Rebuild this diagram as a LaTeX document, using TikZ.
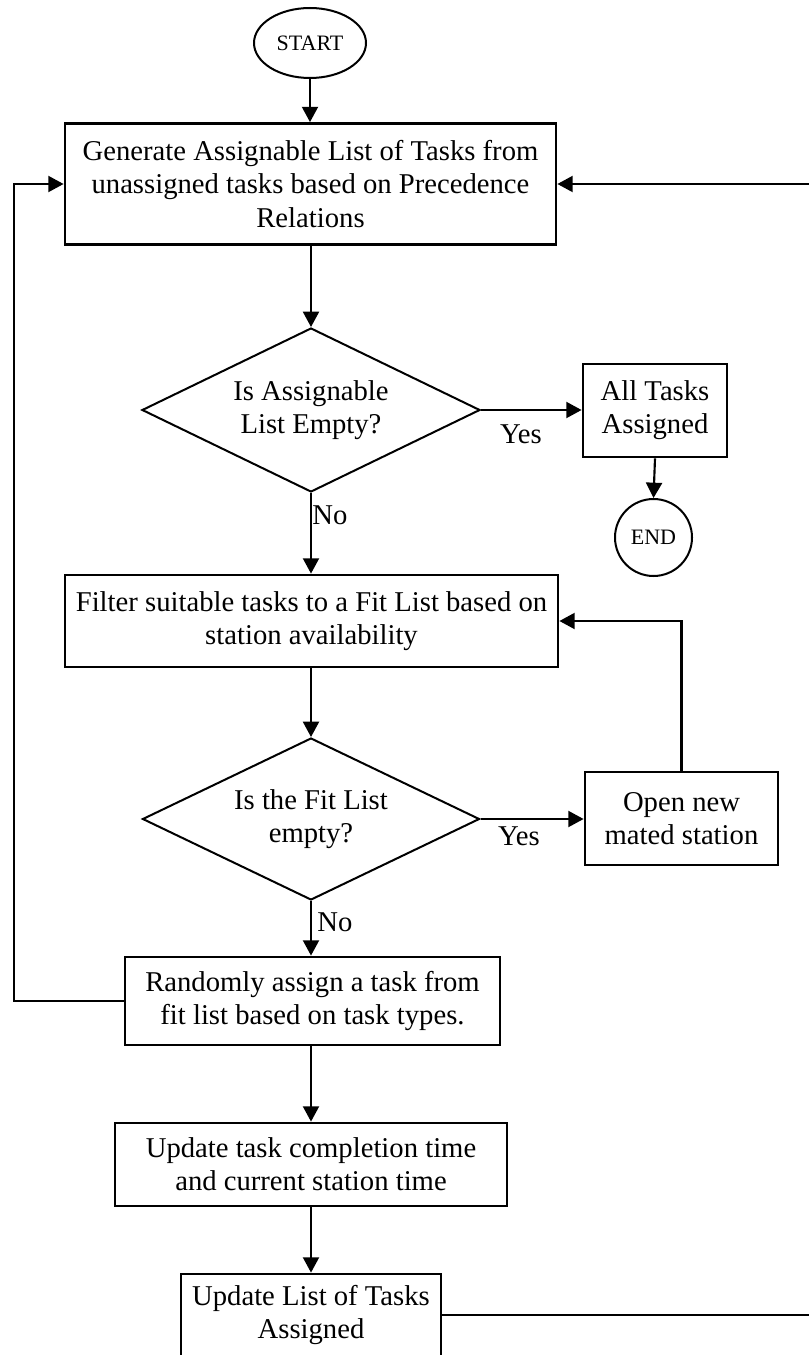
\documentclass[tikz,border=0pt]{standalone}
\usepackage{fontspec}
\setmainfont{Liberation Serif}
\usetikzlibrary{shapes.geometric,arrows.meta}
\newcommand{\mainfs}{\fontsize{21.5}{24.8}\selectfont}
\newcommand{\smallfs}{\fontsize{16.5}{19}\selectfont}
\begin{document}
\begin{tikzpicture}[x=0.75pt,y=-0.75pt,
 procbox/.style={draw,line width=2.1pt,rectangle,align=center,font=\mainfs,inner sep=0pt},
 decis/.style={draw,line width=1.5pt,diamond,aspect=2,align=center,font=\mainfs,inner sep=0pt},
 term/.style={draw,line width=1.5pt,ellipse,font=\smallfs,inner sep=0pt},
 conn/.style={line width=1.6pt,-{Triangle[length=11.5pt,width=12pt]}},
 lbl/.style={font=\mainfs,inner sep=0pt}]
\useasboundingbox (0,0) rectangle (808,1355);
\fill[white] (0,0) rectangle (808,1355);

\node[term,minimum width={112*0.75pt},minimum height={70*0.75pt}] (start) at (310,43) {START};
\node[procbox,minimum width={491*0.75pt},minimum height={121*0.75pt}] (gen) at (310.5,184)
  {Generate Assignable List of Tasks from\\unassigned tasks based on Precedence\\Relations};
\node[decis,minimum width={338*0.75pt},minimum height={164*0.75pt}] (d1) at (311,410)
  {Is Assignable\\List Empty?};
\node[procbox,minimum width={144*0.75pt},minimum height={93*0.75pt}] (all) at (655,410.5)
  {All Tasks\\Assigned};
\node[term,circle,minimum size={77*0.75pt}] (end) at (653.5,537.5) {END};
\node[procbox,minimum width={493*0.75pt},minimum height={92*0.75pt}] (filter) at (311.5,621)
  {Filter suitable tasks to a Fit List based on\\station availability};
\node[decis,minimum width={337*0.75pt},minimum height={162*0.75pt}] (d2) at (311,819)
  {Is the Fit List\\empty?};
\node[procbox,minimum width={193*0.75pt},minimum height={93*0.75pt}] (open) at (681.5,818.5)
  {Open new\\mated station};
\node[procbox,minimum width={375*0.75pt},minimum height={88*0.75pt}] (rand) at (312.5,1001)
  {Randomly assign a task from\\fit list based on task types.};
\node[procbox,minimum width={392*0.75pt},minimum height={83*0.75pt}] (upd) at (311,1164.5)
  {Update task completion time\\and current station time};
\node[procbox,minimum width={260*0.75pt},minimum height={82*0.75pt}] (ulist) at (311,1315)
  {Update List of Tasks\\Assigned};

\node[lbl] (yes1) at (521,434) {Yes};
\node[lbl] (no1) at (330,515) {No};
\node[lbl] (yes2) at (519,836) {Yes};
\node[lbl] (no2) at (335,922) {No};

\coordinate (lloop) at (14,1001);
\coordinate (rb) at (812,1315);

\draw[conn] (start.south) -- (start.south |- gen.north);
\draw[conn] (gen.south -| d1.north) -- (d1.north);
\draw[conn] (d1.east) -- (d1.east -| all.west);
\draw[conn] (all.south) -- (end.north);
\draw[conn] (d1.south) -- (d1.south |- filter.north);
\draw[conn] (d2.north |- filter.south) -- (d2.north);
\draw[conn] (d2.east) -- (d2.east -| open.west);
\draw[conn] (open.north) |- (filter.east);
\draw[conn] (d2.south) -- (d2.south |- rand.north);
\draw[conn] (rand.west) -- (lloop) |- (gen.west);
\draw[conn] (d2.south |- rand.south) -- (d2.south |- upd.north);
\draw[conn] (upd.south) -- (ulist.north);
\draw[conn] (ulist.east) -- (rb) |- (gen.east);
\end{tikzpicture}
\end{document}
